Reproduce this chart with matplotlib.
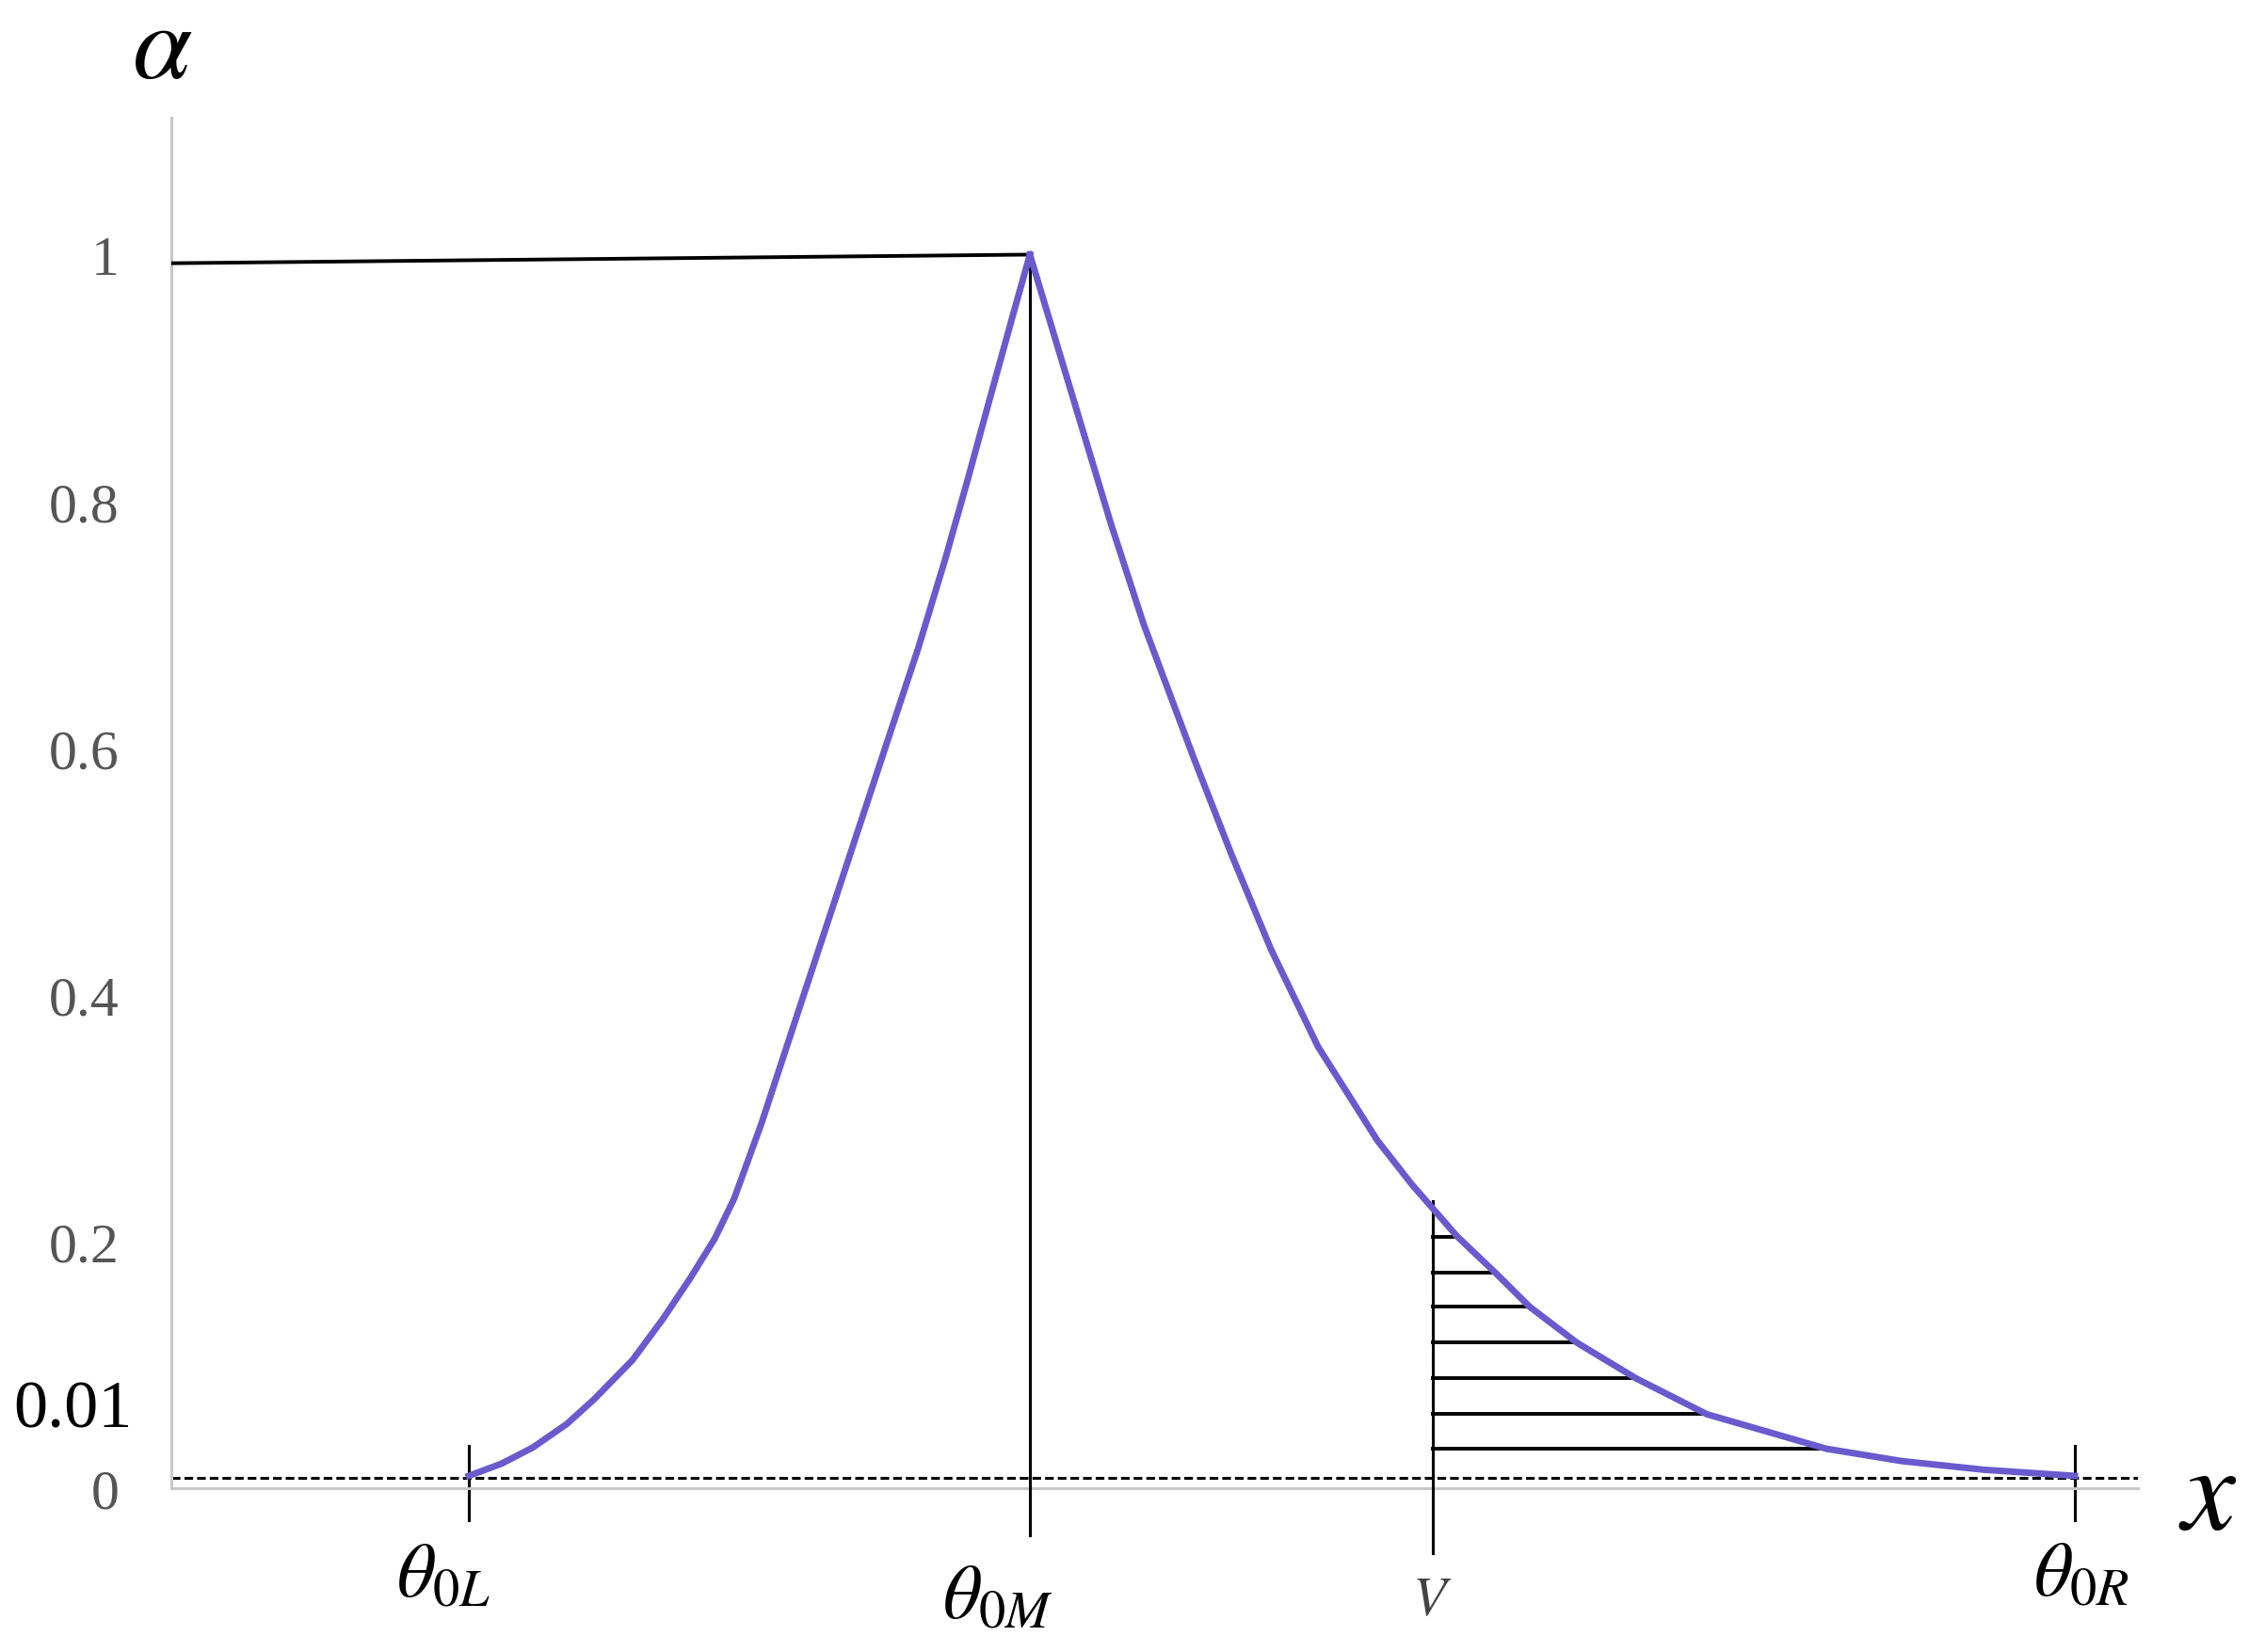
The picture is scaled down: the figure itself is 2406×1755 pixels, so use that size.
import numpy as np
import matplotlib.pyplot as plt

plt.rcParams['mathtext.fontset'] = 'stix'
plt.rcParams['font.family'] = ['Liberation Serif', 'DejaVu Serif']

# points (x in arbitrary units, alpha value)
left_x = [3.16, 3.51, 3.84, 4.20, 4.49, 4.90, 5.22, 5.51, 5.77, 5.98, 6.27,
          6.58, 6.93, 7.25, 7.60, 7.93, 8.22, 8.45, 8.69, 8.94, 9.12]
left_a = [0.010, 0.020, 0.033, 0.052, 0.072, 0.104, 0.137, 0.170, 0.202, 0.235, 0.296,
          0.368, 0.449, 0.523, 0.604, 0.680, 0.753, 0.815, 0.882, 0.951, 1.0]
right_x = [9.12, 9.40, 9.68, 9.98, 10.33, 10.86, 11.26, 11.68, 12.18, 12.81,
           13.18, 13.66, 14.06, 14.43, 14.93, 15.56, 16.31, 17.58, 18.38, 19.25, 20.22]
right_a = [1.0, 0.929, 0.858, 0.782, 0.700, 0.592, 0.514, 0.437, 0.358, 0.282,
           0.246, 0.204, 0.175, 0.147, 0.118, 0.089, 0.060, 0.032, 0.022, 0.015, 0.010]

theta_L, theta_M, v_pos, theta_R = 3.16, 9.12, 13.40, 20.22
x_max = 20.89
hatch_levels = [0.204, 0.175, 0.147, 0.118, 0.089, 0.060, 0.032]
y_ticks = [0, 0.2, 0.4, 0.6, 0.8, 1]
y_labels = ['0', '0.2', '0.4', '0.6', '0.8', '1']

fig = plt.figure(figsize=(24.06, 17.56), dpi=100)
ax = fig.add_axes([182 / 2406, 1 - 1582 / 1756, (2271 - 182) / 2406, (1582 - 126) / 1756])
ax.set_xlim(0, x_max)
ax.set_ylim(0, 1.111)

purple = '#6a5acd'
ax.plot(left_x, left_a, color=purple, lw=5, solid_joinstyle='round', zorder=4)
ax.plot(right_x, right_a, color=purple, lw=5, solid_joinstyle='round', zorder=4)

# top line and peak vertical
ax.plot([0, theta_M], [0.993, 1.0], color='black', lw=2.8, zorder=3)
ax.plot([theta_M, theta_M], [-0.038, 1.0], color='black', lw=2.2, clip_on=False, zorder=3)

# dashed 0.01 level
ax.plot([0, x_max], [0.0085, 0.0085], color='black', lw=2.2, ls=(0, (3, 1.4)), zorder=2)

# ticks at theta_0L and theta_0R, V line
ax.plot([theta_L, theta_L], [-0.026, 0.034], color='black', lw=2.2, clip_on=False)
ax.plot([theta_R, theta_R], [-0.026, 0.034], color='black', lw=2.2, clip_on=False)
ax.plot([v_pos, v_pos], [-0.053, 0.233], color='black', lw=2.2, clip_on=False, zorder=3)

# hatch under the tail
rx = np.array(right_x)[::-1]
ra = np.array(right_a)[::-1]
for lev in hatch_levels:
    xe = np.interp(lev, ra, rx)
    ax.plot([v_pos, xe], [lev, lev], color='black', lw=2.8, zorder=3)

# axes styling
for s in ['top', 'right']:
    ax.spines[s].set_visible(False)
for s in ['left', 'bottom']:
    ax.spines[s].set_color('#c8c8c8')
    ax.spines[s].set_linewidth(2.2)
ax.set_xticks([])
ax.set_yticks(y_ticks)
ax.set_yticklabels(y_labels)
ax.tick_params(axis='y', length=0, pad=40, labelsize=43, labelcolor='#555555')

ax.text(-0.41, 0.063, '0.01', fontsize=52, color='black', ha='right', va='center',
        clip_on=False)

# labels
ax.text(2.89, -0.073, r'$\theta_{0L}$', fontsize=58, ha='center', va='center')
ax.text(8.78, -0.09, r'$\theta_{0M}$', fontsize=58, ha='center', va='center')
ax.text(20.29, -0.072, r'$\theta_{0R}$', fontsize=58, ha='center', va='center')
ax.text(13.39, -0.092, r'$V$', fontsize=42, color='#444444', ha='center', va='center')
ax.text(21.63, -0.009, r'$x$', fontsize=92, ha='center', va='center')
ax.text(-0.10, 1.165, r'$\alpha$', fontsize=82, ha='center', va='center')

fig.savefig('out.png', dpi=100)
